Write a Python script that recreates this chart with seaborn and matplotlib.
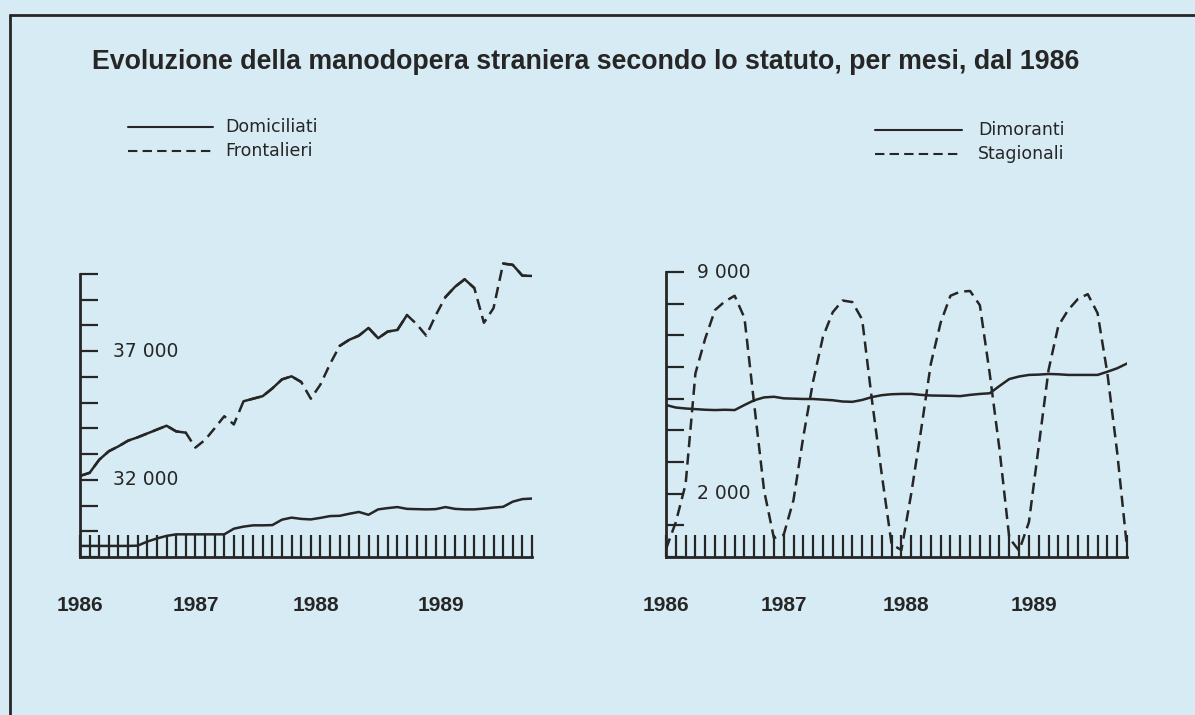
import numpy as np
import pandas as pd
import matplotlib.pyplot as plt
import seaborn as sns
from matplotlib.lines import Line2D


# monthly data, January 1986 .. December 1989
months = list(range(48))
year_labels = ['1986', '1987', '1988', '1989']
year_pos = [0, 12, 24.5, 37.5]

domiciliati = [29430, 29430, 29430, 29430, 29430, 29430, 29440, 29600, 29720, 29820, 29880, 29880,
               29880, 29880, 29880, 29880, 30100, 30180, 30230, 30230, 30240, 30450, 30530, 30480,
               30460, 30520, 30590, 30600, 30680, 30750, 30640, 30850, 30900, 30940, 30870, 30860,
               30850, 30860, 30940, 30870, 30850, 30850, 30880, 30920, 30950, 31150, 31250, 31270]
frontalieri = [32150, 32270, 32780, 33110, 33300, 33520, 33650, 33800, 33950, 34100, 33880, 33830,
               33250, 33550, 34000, 34470, 34150, 35050, 35150, 35250, 35550, 35900, 36020, 35800,
               35150, 35700, 36500, 37200, 37440, 37600, 37900, 37500, 37760, 37820, 38400, 38050,
               37600, 38400, 39100, 39500, 39790, 39450, 38100, 38670, 40400, 40350, 39930, 39920]
dimoranti = [4800, 4720, 4690, 4670, 4650, 4640, 4650, 4640, 4800, 4950, 5040, 5060,
             5010, 5000, 4990, 4990, 4970, 4950, 4910, 4900, 4960, 5050, 5110, 5140,
             5150, 5150, 5120, 5100, 5095, 5090, 5080, 5120, 5150, 5170, 5400, 5620,
             5700, 5750, 5760, 5780, 5770, 5750, 5750, 5750, 5750, 5850, 5960, 6110]
stagionali = [250, 1100, 2300, 5800, 6900, 7800, 8070, 8250, 7550, 4800, 2100, 600,
              700, 1800, 3800, 5550, 6950, 7730, 8100, 8050, 7500, 4950, 2600, 400,
              220, 2000, 4000, 6100, 7400, 8250, 8380, 8400, 7950, 5800, 3400, 600,
              200, 1100, 3500, 5900, 7300, 7800, 8150, 8300, 7700, 5800, 3300, 300]

# stretches where the printed frontalieri line runs unbroken
frontalieri_solid = [(0, 11), (17, 23), (27, 34), (38, 41), (44, 47)]

bg = '#d7ebf4'
ink = '#262626'
dash = (0, (4.5, 2.5))

sns.set_theme(style='ticks')
plt.rcParams['font.family'] = ['Liberation Sans', 'DejaVu Sans']

W, H = 1195, 715
fig = plt.figure(figsize=(W / 100, H / 100), dpi=100, facecolor=bg)

ax1 = fig.add_axes([80 / W, 1 - 557 / H, 452 / W, (557 - 261) / H])
ax2 = fig.add_axes([666 / W, 1 - 557 / H, 461 / W, (557 - 272) / H])

left = pd.DataFrame({'mese': months, 'Domiciliati': domiciliati, 'Frontalieri': frontalieri})
right = pd.DataFrame({'mese': months, 'Dimoranti': dimoranti, 'Stagionali': stagionali})

sns.lineplot(data=left, x='mese', y='Domiciliati', ax=ax1, color=ink, lw=1.8)
sns.lineplot(data=left, x='mese', y='Frontalieri', ax=ax1, color=ink, lw=1.8, linestyle=dash)
for a, b in frontalieri_solid:
    sns.lineplot(data=left.iloc[a:b + 1], x='mese', y='Frontalieri', ax=ax1, color=ink, lw=1.8)

sns.lineplot(data=right, x='mese', y='Dimoranti', ax=ax2, color=ink, lw=1.8)
sns.lineplot(data=right, x='mese', y='Stagionali', ax=ax2, color=ink, lw=1.8, linestyle=dash)

ax1.set_ylim(29000, 40500)
ax1.set_yticks(range(29000, 40001, 1000))
ax1.spines['left'].set_bounds(29000, 40000)
ax2.set_ylim(0, 9000)
ax2.set_yticks(range(0, 9001, 1000))

for ax in (ax1, ax2):
    ax.set_facecolor('none')
    ax.set_xlim(0, 47)
    ax.set_xticks(months)
    ax.set_xlabel('')
    ax.set_ylabel('')
    for s in ('top', 'right'):
        ax.spines[s].set_visible(False)
    for s in ('left', 'bottom'):
        ax.spines[s].set_color(ink)
        ax.spines[s].set_linewidth(2)
    ax.tick_params(axis='x', direction='in', length=15.5, width=1.6, color=ink, labelbottom=False)
    ax.tick_params(axis='y', direction='in', length=13, width=1.6, color=ink, labelleft=False)
    for p, lab in zip(year_pos, year_labels):
        ax.annotate(lab, xy=(p, 0), xycoords=('data', 'axes fraction'), xytext=(0, -35),
                    textcoords='offset points', ha='center', va='center',
                    fontsize=15, fontweight='bold', color=ink)

for v, lab in [(37000, '37 000'), (32000, '32 000')]:
    ax1.text(0.073, v, lab, transform=ax1.get_yaxis_transform(), ha='left', va='center',
             fontsize=13.5, family='DejaVu Sans', color=ink)
for v, lab in [(9000, '9 000'), (2000, '2 000')]:
    ax2.text(0.067, v, lab, transform=ax2.get_yaxis_transform(), ha='left', va='center',
             fontsize=13.5, family='DejaVu Sans', color=ink)

fig.text(92 / W, 1 - 62 / H, 'Evoluzione della manodopera straniera secondo lo statuto, per mesi, dal 1986',
         ha='left', va='center', fontsize=19.3, fontweight='bold', color=ink)

# hand-made legends
legend_rows = [
    (128, 213, 127, 225, 'Domiciliati', '-'),
    (128, 213, 151, 225, 'Frontalieri', dash),
    (875, 962, 130, 978, 'Dimoranti', '-'),
    (875, 962, 154, 978, 'Stagionali', dash),
]
for x0, x1, y, xt, lab, ls in legend_rows:
    fig.add_artist(Line2D([x0 / W, x1 / W], [1 - y / H] * 2, transform=fig.transFigure,
                          color=ink, lw=1.5, linestyle=ls))
    fig.text(xt / W, 1 - y / H, lab, ha='left', va='center', fontsize=12.5,
             family='DejaVu Sans', color=ink)

# frame of the original panel
fig.add_artist(Line2D([10 / W, 1], [1 - 15 / H] * 2, transform=fig.transFigure, color=ink, lw=2))
fig.add_artist(Line2D([10 / W, 10 / W], [0, 1 - 15 / H], transform=fig.transFigure, color=ink, lw=2))

fig.savefig('out.png', dpi=100, facecolor=bg)
